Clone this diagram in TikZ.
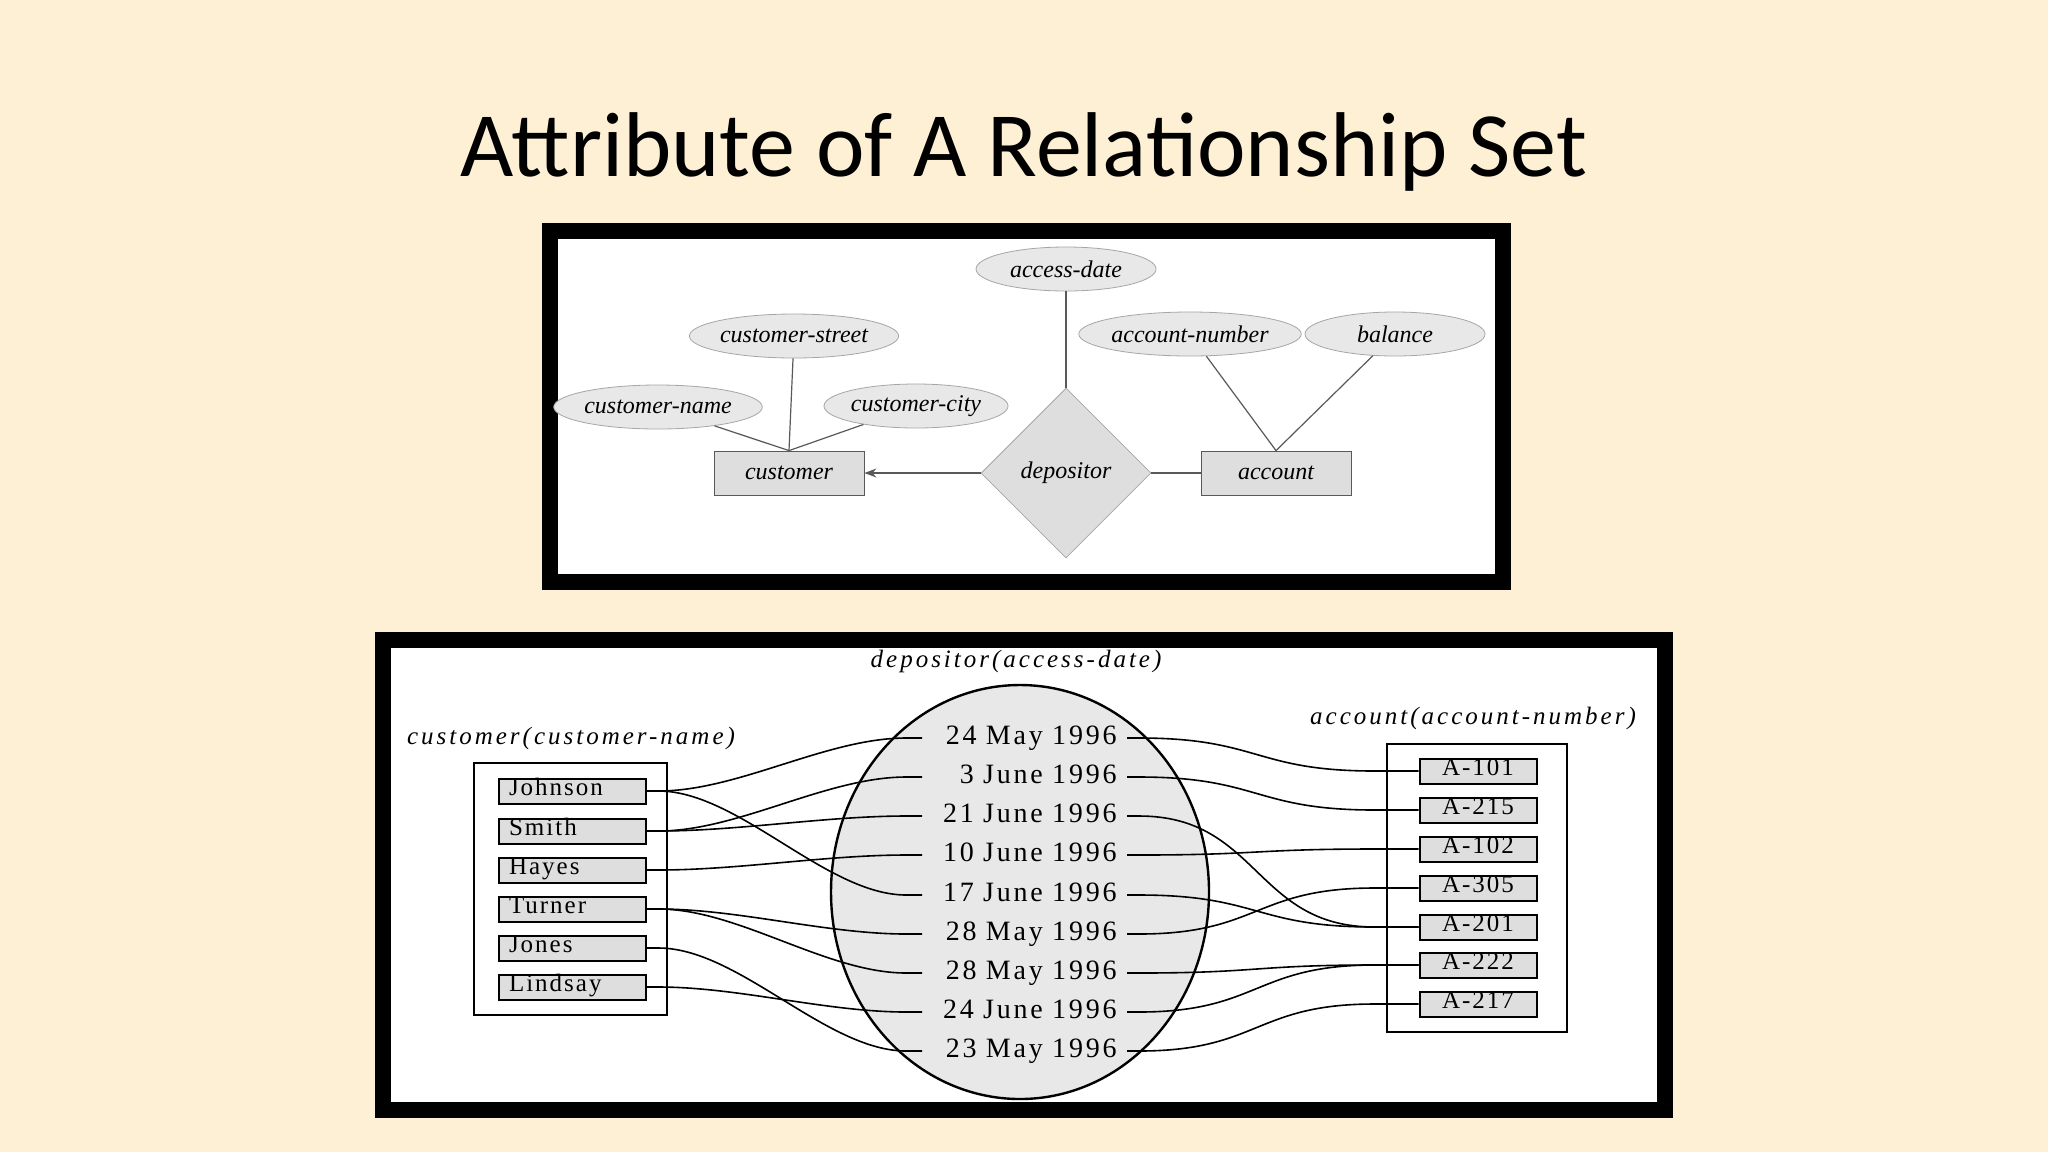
\documentclass[tikz,border=0pt]{standalone}
\usepackage{fontspec}
\setmainfont{Liberation Serif}
\newfontfamily\titlefont{Carlito}
\usetikzlibrary{shapes.geometric,arrows.meta}
\definecolor{slide}{HTML}{FEF0D4}
\definecolor{boxgray}{HTML}{DEDEDE}
\definecolor{ovalgray}{HTML}{E8E8E8}
\tikzset{
    attr/.style={ellipse,draw=gray!70,fill=ovalgray,minimum width=90pt,minimum height=22pt,inner sep=0pt,font=\fontsize{12}{12}\selectfont\itshape},
    entity/.style={rectangle,draw=gray!70!black,fill=boxgray,minimum width=75pt,minimum height=22pt,inner sep=0pt,font=\fontsize{12}{12}\selectfont\itshape},
    rel/.style={diamond,draw=gray!70,fill=boxgray,minimum width=85pt,minimum height=85pt,inner sep=0pt,aspect=1,font=\fontsize{12}{12}\selectfont\itshape},
    item/.style={rectangle,draw,line width=1pt,fill=boxgray,minimum height=12.5pt,inner ysep=0pt,inner xsep=0pt,text height=7.8pt,text depth=3pt,font=\fontsize{12.5}{12.5}\selectfont\addfontfeature{LetterSpace=8}},
    dateitem/.style={anchor=east,inner xsep=5pt,inner ysep=0pt,text width=92pt,align=right,text height=9pt,text depth=2.5pt,font=\fontsize{14}{14}\selectfont\addfontfeature{LetterSpace=10}},
    setlabel/.style={font=\fontsize{12.5}{12.5}\selectfont\itshape\addfontfeature{LetterSpace=12}},
    link/.style={line width=0.8pt},
    er/.style={gray!70!black,line width=0.6pt}
}
\begin{document}
\begin{tikzpicture}[x=0.5pt,y=-0.5pt]
    \fill[slide] (0,0) rectangle (2048,1152);
    \useasboundingbox (0,0) rectangle (2048,1152);
    \node[font=\titlefont\fontsize{46}{46}\selectfont] (title) at (1024,152) {Attribute of A Relationship Set};

    % E-R diagram
    \draw[line width=8pt,fill=white] (550,231) rectangle (1503,582);
    \node[attr] (accdate) at (1066,269) {access-date};
    \node[attr,minimum width=100pt] (cstreet) at (794,336) {customer-street};
    \node[attr] (cname) at (658,407) {customer-name};
    \node[attr] (ccity) at (916,406) {customer-city};
    \node[attr,minimum width=99pt] (accnum) at (1190,334) {account-number};
    \node[attr] (balance) at (1395,334) {balance};
    \node[entity] (customer) at (789,473) {customer};
    \node[rel] (depositor) at (1066,473) {depositor};
    \node[entity] (account) at (1276,473) {account};
    \draw[er] (cstreet) -- (customer.north);
    \draw[er] (cname) -- (customer.north);
    \draw[er] (ccity) -- (customer.north);
    \draw[er] (accnum) -- (account.north);
    \draw[er] (balance) -- (account.north);
    \draw[er] (accdate) -- (depositor.north);
    \draw[er,-{Stealth[length=6pt]}] (depositor.west) -- (customer.east);
    \draw[er] (depositor.east) -- (account.west);

    % instance diagram
    \draw[line width=8pt,fill=white] (383,640) rectangle (1665,1110);
    \node[setlabel] (deplabel) at (1016,661) {depositor(access-date)};
    \node[setlabel] (custlabel) at (571,738) {customer(customer-name)};
    \node[setlabel] (acclabel) at (1473,718) {account(account-number)};
    \draw[line width=1.2pt,fill=boxgray!70] (1020,892) ellipse [x radius=189,y radius=207];
    \draw[line width=1pt] (474,763) rectangle (667,1015);
    \draw[line width=1pt] (1387,744) rectangle (1567,1032);

    \foreach \n/\y in {Johnson/791,Smith/831,Hayes/870,Turner/909,Jones/948,Lindsay/987}
        \node[item,minimum width=73.5pt,text width=63pt,align=left] (\n) at (572,\y) {\n};
    \foreach \n/\y in {101/771,215/810,102/849,305/888,201/927,222/965,217/1004}
        \node[item,minimum width=58.5pt] (A\n) at (1478,\y) {A-\n};
    \foreach \i/\t/\y in {1/24 May 1996/738,2/3 June 1996/777,3/21 June 1996/816,4/10 June 1996/855,5/17 June 1996/895,6/28 May 1996/934,7/28 May 1996/973,8/24 June 1996/1012,9/23 May 1996/1051}
        \node[dateitem] (d\i) at (1127,\y) {\t};

    \foreach \c/\d in {Johnson/1,Johnson/5,Smith/2,Smith/3,Hayes/4,Turner/6,Turner/7,Jones/9,Lindsay/8}
        \draw[link] (\c.east) -- ++(12,0) .. controls +(80,0) and +(-80,0) .. ([xshift=-8pt]d\d.west) -- (d\d.west);
    \foreach \d/\a in {1/101,2/215,3/201,4/102,5/201,6/305,7/222,8/222,9/217}
        \draw[link] (d\d.east) -- ++(12,0) .. controls +(120,0) and +(-120,0) .. ([xshift=-22pt]A\a.west) -- (A\a.west);
\end{tikzpicture}
\end{document}
